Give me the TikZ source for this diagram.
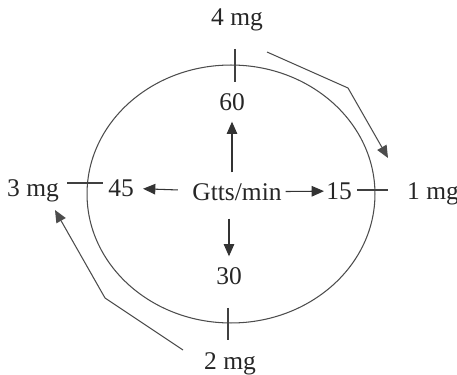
\documentclass[tikz,border=0pt]{standalone}
\usepackage{fontspec}
\setmainfont{Liberation Serif}
\usetikzlibrary{arrows.meta,shapes.geometric}

\begin{document}
\begin{tikzpicture}[x=0.02cm, y=-0.02cm, line width=0.6pt, every node/.style={text=black!85, font=\fontsize{14.5}{16}\selectfont, inner sep=1pt}]
    \useasboundingbox (0,0) rectangle (457,375);

    % Node definitions
    \node (ring) at (231, 194) [ellipse, draw=black!70, minimum width=5.76cm, minimum height=5.16cm] {};
    \node (gtts) at (237, 192) {Gtts/min};
    \node (n60) at (232, 102) {60};
    \node (n15) at (339, 191) {15};
    \node (n30) at (229, 276) {30};
    \node (n45) at (121, 188) {45};
    \node (mg4) at (237, 20) {4 mg};
    \node (mg1) at (433, 194) {1 mg};
    \node (mg2) at (230, 364) {2 mg};
    \node (mg3) at (33, 191) {3 mg};

    % Tick ends and bends
    \coordinate (t4a) at (235, 49);  \coordinate (t4b) at (235, 82);
    \coordinate (t1a) at (357, 190); \coordinate (t1b) at (388, 190);
    \coordinate (t2a) at (228, 308); \coordinate (t2b) at (228, 340);
    \coordinate (t3a) at (67, 183);  \coordinate (t3b) at (103, 183);
    \coordinate (ra) at (267, 52);  \coordinate (rb) at (348, 88);  \coordinate (rc) at (388, 158);
    \coordinate (la) at (183, 350); \coordinate (lb) at (105, 298); \coordinate (lc) at (55, 210);

    % Ticks
    \draw[black!75] (t4a) -- (t4b);
    \draw[black!75] (t1a) -- (t1b);
    \draw[black!75] (t2a) -- (t2b);
    \draw[black!75] (t3a) -- (t3b);

    % Edge definitions from the centre
    \draw[-{Triangle[length=7pt,width=6pt]}, black!80, shorten <=5pt, shorten >=5pt] (gtts.north -| n60) -- (n60);
    \draw[-{Triangle[length=7pt,width=6pt]}, black!80, shorten <=9pt, shorten >=5pt] (gtts.south -| n30) -- (n30);
    \draw[-{Triangle[length=7pt,width=6pt]}, black!80, shorten <=1pt, shorten >=0pt] (gtts) -- (n15);
    \draw[-{Triangle[length=7pt,width=6pt]}, black!80, shorten <=7pt, shorten >=4pt] (gtts) -- (n45);

    % Direction of the round
    \draw[-{Triangle[length=7pt,width=6pt]}, black!70] (ra) -- (rb) -- (rc);
    \draw[-{Triangle[length=7pt,width=6pt]}, black!70] (la) -- (lb) -- (lc);
\end{tikzpicture}
\end{document}
